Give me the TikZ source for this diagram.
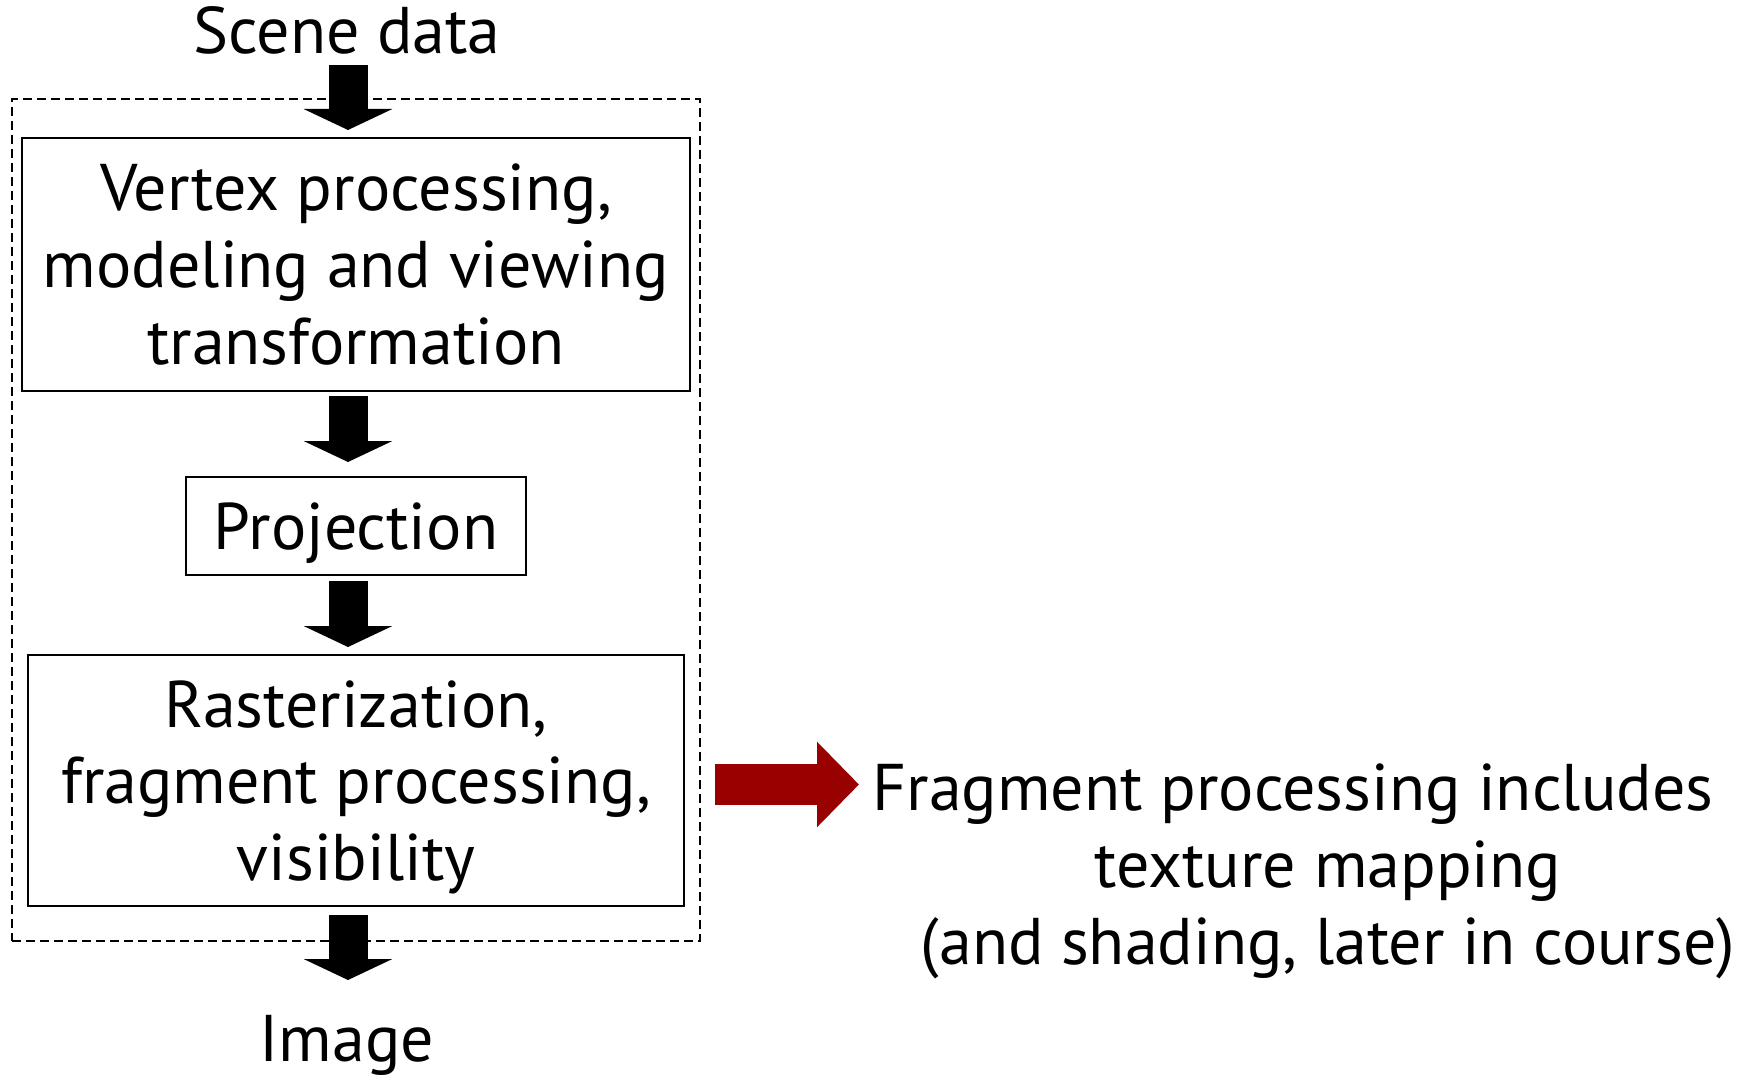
\documentclass[tikz,border=0pt]{standalone}
\usepackage{fontspec}
\setmainfont{PT Sans}
\usetikzlibrary{arrows.meta}
\definecolor{arrowred}{RGB}{153,0,0}
\begin{document}
\begin{tikzpicture}[x=0.5pt,y=-0.5pt,
  txt/.style={font=\fontsize{33}{38.4}\selectfont},
  box/.style={txt, draw=black, line width=1pt, inner sep=0pt, align=center},
  lbl/.style={txt, inner sep=0pt},
  group/.style={draw=black, line width=0.9pt, dash pattern=on 4.5pt off 2.5pt, inner sep=0pt},
  flow/.style={line width=19.5pt, -{Triangle[length=10.5pt, width=44pt]}},
  redflow/.style={arrowred, line width=20.5pt, -{Triangle[length=21pt, width=41.5pt]}}]
\useasboundingbox (0,0) rectangle (1761,1075);
\node[group, minimum width=344pt, minimum height=421pt] (grp) at (356,520) {};
\node[lbl, anchor=base] (scene) at (347,54) {Scene data};
\node[box, minimum width=334pt, minimum height=126.5pt] (vert) at (356,264.5) {Vertex processing,\\modeling and viewing\\transformation};
\node[box, minimum width=170pt, minimum height=49pt, text depth=0pt] (proj) at (356,526) {Projection};
\node[box, minimum width=328pt, minimum height=125.5pt] (rast) at (356,780.5) {Rasterization,\\fragment processing,\\\raisebox{0pt}[\height][0pt]{visibility}};
\node[lbl, anchor=base] (img) at (347,1061) {Image};
\node[lbl, align=center, anchor=base] (note) at (1328,964) {Fragment processing includes\hspace*{35pt}\\texture mapping\\(and shading, later in course)};
\coordinate (a1s) at (348,65);  \coordinate (a1e) at (348,130);
\coordinate (a2s) at (348,396); \coordinate (a2e) at (348,462);
\coordinate (a3s) at (348,581); \coordinate (a3e) at (348,647);
\coordinate (a4s) at (348,915); \coordinate (a4e) at (348,980);
\coordinate (rs) at (715,784.5); \coordinate (re) at (859,784.5);
\draw[flow] (a1s) -- (a1e);
\draw[flow] (a2s) -- (a2e);
\draw[flow] (a3s) -- (a3e);
\draw[flow] (a4s) -- (a4e);
\draw[redflow] (rs) -- (re);
\end{tikzpicture}
\end{document}
